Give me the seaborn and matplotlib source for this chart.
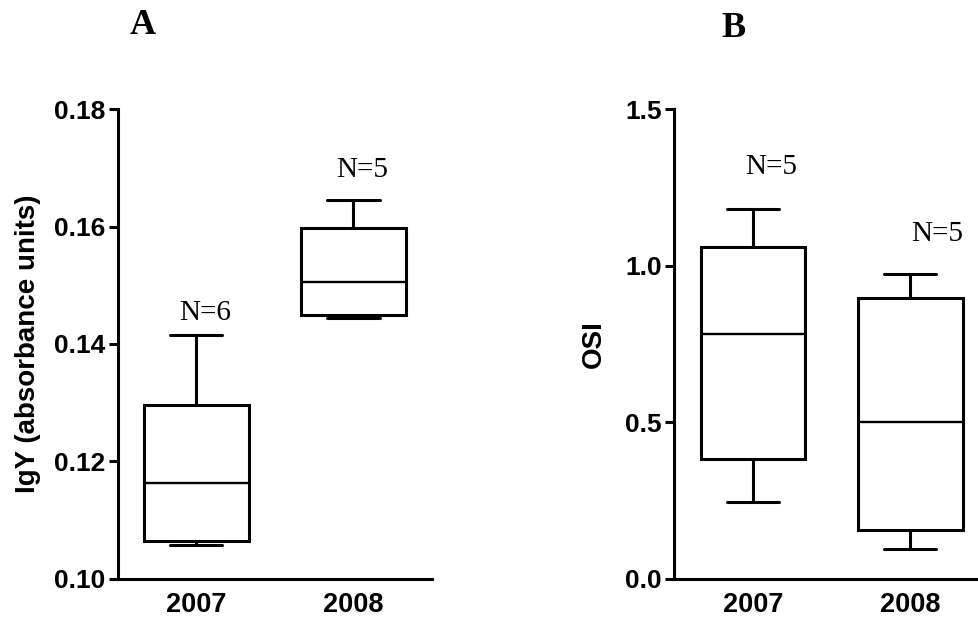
import numpy as np
import pandas as pd
import matplotlib
matplotlib.use("Agg")
import matplotlib.pyplot as plt
import seaborn as sns

# ---- data ----
years = ["2007", "2008"]
igy_2007 = [0.1057, 0.1060, 0.1076, 0.1250, 0.1310, 0.1415]   # N=6
igy_2008 = [0.1444, 0.1449, 0.1505, 0.1597, 0.1645]           # N=5
osi_2007 = [0.245, 0.382, 0.781, 1.059, 1.181]                # N=5
osi_2008 = [0.094, 0.155, 0.500, 0.897, 0.972]                # N=5
n_labels_a = ["N=6", "N=5"]
n_labels_b = ["N=5", "N=5"]
igy_ticks = [0.10, 0.12, 0.14, 0.16, 0.18]
osi_ticks = [0.0, 0.5, 1.0, 1.5]

df_a = pd.DataFrame({"year": [years[0]] * len(igy_2007) + [years[1]] * len(igy_2008),
                     "value": igy_2007 + igy_2008})
df_b = pd.DataFrame({"year": [years[0]] * len(osi_2007) + [years[1]] * len(osi_2008),
                     "value": osi_2007 + osi_2008})

sns.set_theme(style="ticks")
plt.rcParams["font.family"] = ["Liberation Sans", "DejaVu Sans"]
plt.rcParams["text.color"] = "black"
plt.rcParams["axes.labelcolor"] = "black"
plt.rcParams["xtick.color"] = "black"
plt.rcParams["ytick.color"] = "black"

fig = plt.figure(figsize=(9.79, 6.18), dpi=100)
ax_a = fig.add_axes([0.1202, 0.0639, 0.3211, 0.7592])
ax_b = fig.add_axes([0.6888, 0.0639, 0.3211, 0.7592])

LW = 2.2
serif = ["Liberation Serif", "DejaVu Serif"]


def draw(ax, df, ticks, fmt, ylabel, label_x, labels, label_pos):
    sns.boxplot(data=df, x="year", y="value", order=years, ax=ax,
                whis=(0, 100), width=0.667, color="white", linecolor="black",
                linewidth=LW, showfliers=False,
                medianprops={"linewidth": 1.7, "color": "black"})
    ax.set_xlim(-0.5, 1.5)
    ax.set_ylim(ticks[0], ticks[-1])
    ax.set_yticks(ticks)
    ax.set_yticklabels([fmt.format(t) for t in ticks])
    ax.set_xlabel("")
    ax.set_ylabel(ylabel, fontsize=20, fontweight="bold", color="black")
    ax.yaxis.set_label_coords(label_x, 0.5)
    sns.despine(ax=ax)
    for s in ["left", "bottom"]:
        ax.spines[s].set_linewidth(LW)
        ax.spines[s].set_color("black")
    ax.tick_params(axis="y", length=6.7, width=LW, pad=2.4, labelsize=19, colors="black")
    ax.tick_params(axis="x", length=0, pad=10, labelsize=19.5, colors="black")
    for lab in ax.get_xticklabels() + ax.get_yticklabels():
        lab.set_fontweight("bold")
    for txt, (x, y) in zip(labels, label_pos):
        ax.text(x, y, txt, ha="center", va="center", fontsize=21,
                family=serif, color="black")


draw(ax_a, df_a, igy_ticks, "{:.2f}", "IgY (absorbance units)", -0.244,
     n_labels_a, [(0.054, 0.1453), (1.053, 0.1696)])
draw(ax_b, df_b, osi_ticks, "{:.1f}", "OSI", -0.215,
     n_labels_b, [(0.114, 1.317), (1.172, 1.102)])

fig.text(0.146, 0.959, "A", ha="center", va="center", fontsize=26,
         fontweight="bold", family=serif, color="black")
fig.text(0.749, 0.9545, "B", ha="center", va="center", fontsize=26,
         fontweight="bold", family=serif, color="black")

fig.savefig("out.png", dpi=100)
